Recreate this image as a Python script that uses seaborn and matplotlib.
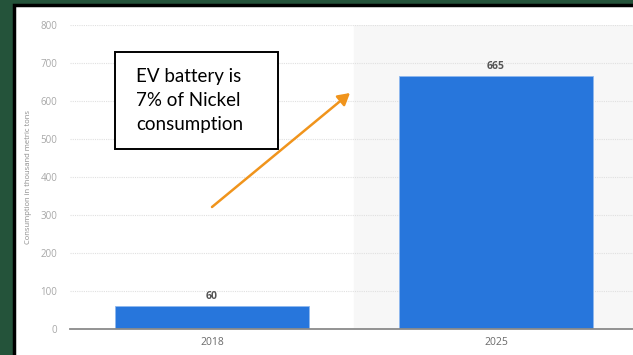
import matplotlib
matplotlib.use("Agg")
import matplotlib.pyplot as plt
from matplotlib.patches import Rectangle, FancyArrowPatch
import seaborn as sns
import pandas as pd

# Nickel consumption for EV batteries (thousand metric tons)
years = ["2018", "2025"]
consumption = [60, 665]
y_ticks = [0, 100, 200, 300, 400, 500, 600, 700, 800]
y_label = "Consumption in thousand metric tons"
note = "EV battery is\n7% of Nickel\nconsumption"

sns.set_theme(style="white")
plt.rcParams["font.family"] = ["Open Sans", "DejaVu Sans"]

W, H = 633, 355
fig = plt.figure(figsize=(W / 100, H / 100), dpi=100)
fig.patch.set_facecolor("#24533a")


def fx(px):
    return px / W


def fy(py):
    return 1 - py / H


# white slide panel with black frame
fig.patches.append(Rectangle((fx(14), -0.05), 1.2, fy(5) + 0.05,
                             transform=fig.transFigure, facecolor="white",
                             edgecolor="black", linewidth=2.5, zorder=0))

ax = fig.add_axes([fx(70), fy(328.7), fx(638) - fx(70), fy(25) - fy(328.7)])
ax.set_zorder(2)
ax.set_facecolor("none")

df = pd.DataFrame({"year": years, "value": consumption})
sns.barplot(data=df, x="year", y="value", color="#2776dc", width=0.685,
            saturation=1, edgecolor="#8fb8ee", linewidth=0.6, ax=ax, zorder=3)

ax.axvspan(0.5, 1.5, color="#f7f7f7", zorder=0)
ax.set_xlim(-0.5, 1.5)
ax.set_ylim(0, 800)
ax.set_yticks(y_ticks)
ax.yaxis.grid(True, linestyle=(0, (1, 1)), color="#e0e0e0", linewidth=0.8, zorder=1)
ax.set_axisbelow(True)

for s in ["top", "right", "left"]:
    ax.spines[s].set_visible(False)
ax.spines["bottom"].set_color("#8a8a8a")
ax.spines["bottom"].set_linewidth(1.3)
ax.spines["bottom"].set_zorder(4)

ax.tick_params(axis="y", length=0, pad=9, labelsize=7, labelcolor="#a8a8a8")
ax.tick_params(axis="x", length=0, pad=6, labelsize=7.5, labelcolor="#6a6a6a")
ax.set_xlabel("")
ax.set_ylabel(y_label, fontsize=5.5, color="#8c8c8c", labelpad=6)

for cont in ax.containers:
    ax.bar_label(cont, fmt="%d", padding=3, fontsize=7.5, color="#555555",
                 fontweight="bold")

# callout box
box = Rectangle((fx(115), fy(149)), fx(278) - fx(115), fy(52) - fy(149),
                transform=fig.transFigure, facecolor="white",
                edgecolor="black", linewidth=1.4, zorder=5)
fig.add_artist(box)
fig.text(fx(136), fy(68), note, fontsize=13.5, family=["Lato", "DejaVu Sans"],
         color="black", va="top", ha="left", linespacing=1.5, zorder=6)

# orange arrow pointing to the 2025 bar
fig.add_artist(FancyArrowPatch(
    (fx(212), fy(207)), (fx(350), fy(93)), transform=fig.transFigure,
    arrowstyle="-|>,head_length=7,head_width=4", color="#f0941c",
    linewidth=1.8, zorder=6, shrinkA=0, shrinkB=0))

fig.savefig("out.png", dpi=100, facecolor=fig.get_facecolor())
